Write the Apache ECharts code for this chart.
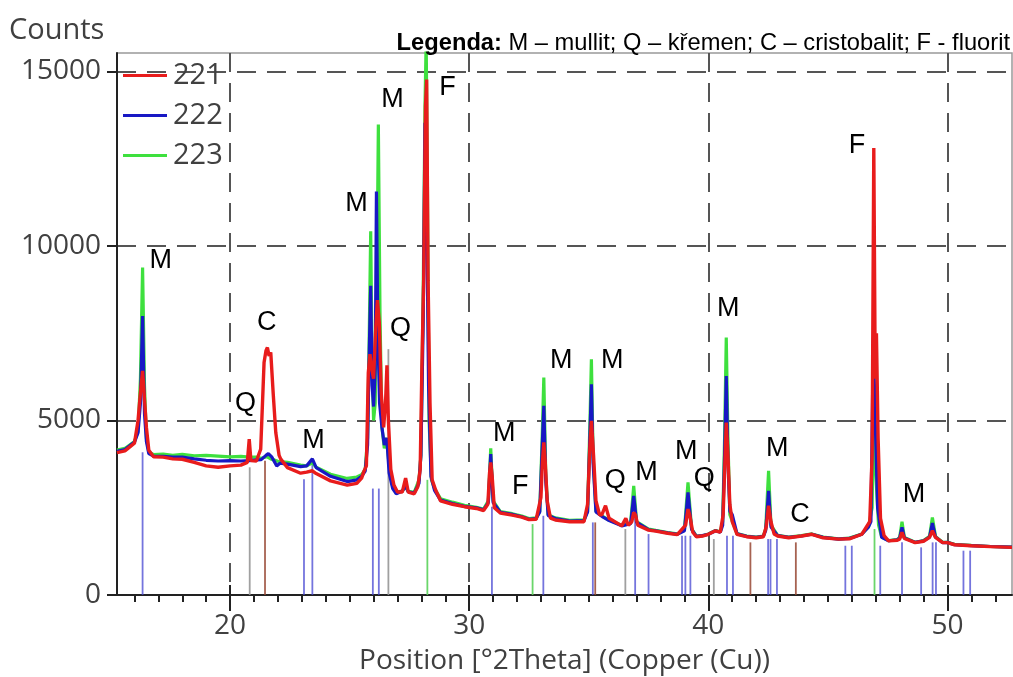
<!DOCTYPE html>
<html>
<head>
<meta charset="utf-8">
<script src="https://cdn.jsdelivr.net/npm/echarts@6/dist/echarts.min.js"></script>
<style>html,body{margin:0;padding:0;background:#fff}#c{width:1013px;height:677px}</style>
</head>
<body>
<div id="c"></div>
<script>
// ---- data ----
const seriesNames = ['221', '222', '223'];
const xTicks = [20, 30, 40, 50];
const xMinorTicks = [16,17,18,19,21,22,23,24,25,26,27,28,29,31,32,33,34,35,36,37,38,39,41,42,43,44,45,46,47,48,49,51,52];
const yTicks = [0, 5000, 10000, 15000];

// 223 (green)
const s223 = [[15.27,4150],[15.6,4200],[16.0,4400],[16.15,4700],[16.25,6200],[16.34,9380],[16.42,6000],[16.5,4500],[16.6,4100],[16.8,4020],[17.2,4040],[17.6,4000],[18.0,4030],[18.5,3990],[19.0,4000],[19.5,3980],[20.0,3960],[20.45,3970],[20.8,3950],[21.1,3950],[21.3,3920],[21.55,3960],[21.7,3900],[22.0,3830],[22.4,3800],[22.95,3720],[23.2,3700],[23.44,3790],[23.6,3660],[24.2,3460],[24.9,3340],[25.3,3380],[25.5,3450],[25.65,3600],[25.75,4500],[25.82,7500],[25.88,10420],[25.94,6500],[26.0,5000],[26.07,5500],[26.14,9000],[26.2,13480],[26.27,8000],[26.35,4800],[26.45,4200],[26.55,4500],[26.65,3700],[26.8,3100],[26.95,2950],[27.2,2980],[27.34,3100],[27.45,2970],[27.7,2940],[27.9,3300],[27.98,4000],[28.08,9000],[28.15,14000],[28.2,15900],[28.25,12000],[28.32,5000],[28.42,3300],[28.55,3050],[28.8,2760],[29.3,2660],[29.8,2570],[30.3,2510],[30.6,2460],[30.8,2700],[30.9,4200],[31.0,2700],[31.3,2390],[31.8,2330],[32.2,2260],[32.5,2190],[32.8,2210],[32.95,2400],[33.05,4500],[33.12,6230],[33.2,3500],[33.3,2300],[33.6,2210],[34.2,2140],[34.8,2150],[34.95,2400],[35.05,5000],[35.11,6755],[35.18,4000],[35.3,2400],[35.6,2250],[35.8,2160],[36.38,2000],[36.75,2060],[36.88,3130],[37.0,2100],[37.5,1890],[37.8,1850],[38.3,1790],[38.7,1750],[39.0,1860],[39.15,3225],[39.3,1900],[39.5,1690],[39.75,1700],[40.0,1750],[40.3,1850],[40.5,1810],[40.6,2100],[40.68,4500],[40.75,7375],[40.82,4500],[40.9,2300],[41.2,1760],[41.6,1690],[42.0,1660],[42.3,1690],[42.4,1900],[42.52,3558],[42.62,2000],[42.9,1710],[43.36,1660],[43.9,1700],[44.33,1750],[44.8,1660],[45.45,1610],[45.9,1630],[46.42,1750],[46.7,1950],[46.85,2500],[46.92,5600],[47.0,3500],[47.12,2000],[47.25,1660],[47.54,1560],[47.9,1590],[48.0,1650],[48.1,2098],[48.2,1650],[48.65,1510],[49.0,1560],[49.25,1680],[49.37,2223],[49.5,1680],[49.8,1510],[50.0,1510],[50.3,1450],[51.0,1420],[51.8,1390],[52.7,1370]];

// 222 (blue)
const s222 = [[15.27,4120],[15.6,4170],[16.0,4380],[16.15,4650],[16.25,5500],[16.34,7990],[16.42,5200],[16.5,4400],[16.6,4050],[16.8,3980],[17.2,3970],[17.6,3950],[18.0,3950],[18.5,3900],[19.0,3860],[19.5,3840],[20.0,3850],[20.45,3840],[20.8,3850],[21.1,3870],[21.3,3880],[21.5,4000],[21.6,4050],[21.75,3950],[21.95,3700],[22.1,3780],[22.4,3750],[22.95,3680],[23.2,3700],[23.44,3900],[23.6,3650],[24.2,3400],[24.9,3250],[25.3,3300],[25.5,3400],[25.65,3550],[25.75,4300],[25.82,7000],[25.88,8860],[25.94,6000],[26.0,5400],[26.07,6500],[26.12,11560],[26.18,7500],[26.25,5500],[26.35,4800],[26.45,4300],[26.55,4500],[26.65,3500],[26.8,3050],[26.95,2900],[27.2,2980],[27.34,3120],[27.45,2960],[27.7,2920],[27.9,3200],[27.98,4000],[28.08,8000],[28.15,13530],[28.22,11000],[28.3,6000],[28.4,3400],[28.55,3000],[28.8,2720],[29.3,2620],[29.8,2540],[30.3,2500],[30.6,2440],[30.8,2650],[30.9,4035],[31.0,2650],[31.3,2370],[31.8,2310],[32.2,2240],[32.5,2170],[32.8,2190],[32.95,2380],[33.05,4200],[33.12,5418],[33.2,3300],[33.3,2280],[33.6,2190],[34.2,2120],[34.8,2130],[34.95,2380],[35.05,4600],[35.11,6040],[35.18,3800],[35.3,2380],[35.6,2230],[35.8,2150],[36.38,1980],[36.75,2040],[36.88,2842],[37.0,2080],[37.5,1870],[37.8,1840],[38.3,1780],[38.7,1740],[39.0,1840],[39.15,2939],[39.3,1880],[39.5,1680],[39.75,1700],[40.0,1740],[40.3,1840],[40.5,1800],[40.6,2000],[40.68,4000],[40.75,6277],[40.82,3800],[40.9,2400],[41.0,2300],[41.2,1750],[41.6,1680],[42.0,1650],[42.3,1680],[42.4,1850],[42.52,2985],[42.62,1950],[42.9,1700],[43.36,1650],[43.9,1690],[44.33,1740],[44.8,1650],[45.45,1600],[45.9,1620],[46.42,1740],[46.7,1950],[46.8,2100],[46.9,7375],[46.98,5000],[47.08,2500],[47.25,1650],[47.54,1555],[47.9,1580],[48.0,1630],[48.1,1937],[48.2,1630],[48.65,1508],[49.0,1550],[49.25,1660],[49.37,2060],[49.5,1660],[49.8,1500],[50.0,1508],[50.3,1440],[51.0,1412],[51.8,1390],[52.7,1370]];

// 221 (red)
const s221 = [[15.27,4080],[15.6,4130],[16.0,4350],[16.15,5000],[16.25,5800],[16.34,6420],[16.42,5600],[16.5,4800],[16.6,4150],[16.8,3960],[17.2,3950],[17.6,3900],[18.0,3890],[18.5,3800],[19.0,3700],[19.5,3660],[20.0,3700],[20.45,3720],[20.72,3800],[20.8,4465],[20.87,3850],[21.1,3840],[21.28,4180],[21.42,6660],[21.5,7000],[21.56,7090],[21.63,6850],[21.7,6950],[21.8,5800],[21.91,4656],[22.05,4000],[22.12,3892],[22.4,3650],[22.95,3490],[23.2,3520],[23.44,3560],[23.6,3480],[24.2,3270],[24.9,3150],[25.3,3200],[25.5,3350],[25.6,3550],[25.7,3700],[25.78,6373],[25.85,6900],[25.92,6500],[26.0,6200],[26.08,7500],[26.16,8450],[26.24,7800],[26.32,5800],[26.42,4800],[26.5,5500],[26.56,6580],[26.62,5000],[26.72,3600],[26.85,3150],[27.0,2950],[27.2,2950],[27.34,3350],[27.45,2950],[27.7,2900],[27.85,3100],[27.95,3600],[28.02,6500],[28.1,9200],[28.17,14000],[28.22,14770],[28.28,9000],[28.36,5500],[28.45,3300],[28.6,3000],[28.8,2700],[29.3,2600],[29.8,2530],[30.3,2480],[30.6,2420],[30.78,2600],[30.85,3500],[30.9,3800],[30.96,3400],[31.05,2500],[31.3,2350],[31.8,2290],[32.2,2230],[32.5,2160],[32.8,2170],[33.0,2800],[33.06,3800],[33.12,4370],[33.18,3800],[33.26,2700],[33.4,2200],[33.6,2150],[34.2,2100],[34.8,2100],[34.95,2600],[35.05,4300],[35.11,4990],[35.2,4000],[35.3,2700],[35.45,2300],[35.55,2300],[35.7,2560],[35.85,2200],[36.38,1980],[36.55,2200],[36.65,2000],[36.8,2100],[36.88,2366],[36.95,2300],[37.05,2000],[37.5,1860],[37.8,1830],[38.3,1770],[38.7,1730],[39.05,2000],[39.15,2461],[39.22,2300],[39.35,1800],[39.5,1670],[39.75,1690],[40.0,1740],[40.3,1840],[40.5,1800],[40.62,2300],[40.75,4942],[40.82,4000],[40.9,2600],[41.0,2100],[41.2,1740],[41.6,1670],[42.0,1640],[42.3,1670],[42.42,1950],[42.52,2556],[42.62,2100],[42.75,1750],[42.9,1690],[43.36,1640],[43.9,1690],[44.33,1740],[44.8,1640],[45.45,1600],[45.9,1610],[46.42,1740],[46.75,2100],[46.85,4000],[46.92,12810],[46.98,6200],[47.03,7500],[47.1,4500],[47.2,2200],[47.35,1700],[47.54,1550],[47.9,1570],[48.0,1600],[48.1,1794],[48.2,1620],[48.65,1500],[49.0,1540],[49.25,1650],[49.37,1841],[49.5,1650],[49.8,1500],[50.0,1500],[50.3,1440],[51.0,1410],[51.8,1385],[52.7,1365]];

// reference pattern sticks [position, height]
const sticksMullite = [[16.34,4090],[23.09,3320],[23.44,3890],[25.97,3050],[26.22,3050],[30.95,2530],[33.1,2270],[35.17,2080],[36.94,2175],[37.5,1746],[38.9,1698],[39.04,1698],[39.25,1698],[40.78,1700],[41.03,1700],[42.5,1603],[42.6,1603],[42.87,1603],[45.73,1412],[46.0,1412],[47.19,1412],[48.1,1508],[48.9,1365],[49.38,1508],[49.52,1508],[50.67,1270],[50.95,1270]];
const sticksQuartz = [[20.82,3660],[26.62,7044],[36.53,1890],[40.23,1603]];
const sticksCristobalite = [[21.46,3844],[35.27,2080],[41.76,1508],[43.66,1508]];
const sticksFluorite = [[28.25,3300],[32.65,2032],[46.95,1890]];

// peak annotations [letter, x, counts]
const peakLabels = [['M',17.12,9560],['C',21.55,7785],['Q',20.67,5467],['M',23.51,4407],['M',25.31,11190],['M',26.81,14195],['Q',27.15,7613],['F',29.11,14539],['M',31.49,4608],['F',32.16,3091],['M',33.87,6697],['M',36.0,6697],['Q',36.13,3263],['M',37.43,3492],['M',39.1,4093],['Q',39.85,3320],['M',40.85,8185],['M',42.9,4179],['C',43.86,2290],['F',46.24,12850],['M',48.62,2862]];

const legendNote = 'M – mullit; Q – křemen; C – cristobalit; F - fluorit';

// ---- chart ----
const gray = '#404040';
const uiFont = 'Open Sans';
const X_MIN = 15.27, X_MAX = 52.7, Y_MAX = 15530;

function stickSeries(data, color) {
  return {
    type: 'custom', silent: true, z: 1, clip: true,
    data: data,
    renderItem: function (params, api) {
      const p0 = api.coord([api.value(0), 0]);
      const p1 = api.coord([api.value(0), api.value(1)]);
      return { type: 'line', shape: { x1: p0[0], y1: p0[1], x2: p1[0], y2: p1[1] },
        style: { stroke: color, lineWidth: 1.8 } };
    }
  };
}

const chart = echarts.init(document.getElementById('c'), null, { renderer: 'canvas' });
chart.setOption({
  animation: false,
  backgroundColor: '#fff',
  title: [
    { text: 'Counts', left: 9, top: 16, padding: 0,
      textStyle: { fontSize: 29, fontWeight: 'normal', color: gray, fontFamily: uiFont } },
    { text: '{b|Legenda:}{r| ' + legendNote + '}', right: 3, top: 31, padding: 0,
      textStyle: { rich: {
        b: { fontWeight: 'bold', fontSize: 23.7, fontFamily: 'Liberation Sans', color: '#000' },
        r: { fontWeight: 'normal', fontSize: 23.7, fontFamily: 'Liberation Sans', color: '#000' } } } }
  ],
  legend: {
    data: seriesNames, orient: 'vertical', left: 118, top: 56,
    icon: 'rect', itemWidth: 44, itemHeight: 3, itemGap: 11,
    textStyle: { fontSize: 29, color: gray, fontFamily: uiFont, padding: [0,0,0,1] }
  },
  grid: { left: 117, right: 1, top: 53, bottom: 82, show: true, borderColor: '#999', borderWidth: 1.5,
    containLabel: false, outerBoundsMode: 'none' },
  xAxis: [
    { type: 'value', min: X_MIN, max: X_MAX, position: 'bottom',
      name: 'Position [°2Theta] (Copper (Cu))', nameLocation: 'middle', nameGap: 52,
      nameTextStyle: { fontSize: 28, color: gray, fontFamily: uiFont },
      axisLine: { show: true, onZero: false, lineStyle: { color: '#222', width: 2 } },
      axisTick: { show: true, customValues: xTicks, length: 16, lineStyle: { color: '#222', width: 2 } },
      axisLabel: { customValues: xTicks, fontSize: 28, color: gray, fontFamily: uiFont, margin: 17 },
      splitLine: { show: true, lineStyle: { color: '#555', width: 2, type: [19, 11] } } },
    { type: 'value', min: X_MIN, max: X_MAX, position: 'bottom',
      axisLine: { show: false }, axisLabel: { show: false }, splitLine: { show: false },
      axisTick: { show: true, customValues: xMinorTicks, length: 7, lineStyle: { color: '#222', width: 2 } } },
    { type: 'value', min: X_MIN, max: X_MAX, position: 'bottom',
      axisLine: { show: false }, axisLabel: { show: false }, splitLine: { show: false },
      axisTick: { show: true, inside: true, customValues: xTicks, length: 10, lineStyle: { color: '#222', width: 2 } } }
  ],
  yAxis: {
    type: 'value', min: 0, max: Y_MAX,
    axisLine: { show: true, lineStyle: { color: '#222', width: 2 } },
    axisTick: { show: true, customValues: yTicks, length: 10, lineStyle: { color: '#222', width: 2 } },
    axisLabel: { customValues: yTicks, fontSize: 28, color: gray, fontFamily: uiFont, margin: 16,
      formatter: function (v) { return String(Math.round(v)); } },
    splitLine: { show: true, lineStyle: { color: '#555', width: 2, type: [19, 11] } }
  },
  series: [
    stickSeries(sticksMullite, 'rgba(70,70,210,0.75)'),
    stickSeries(sticksQuartz, 'rgba(150,150,150,0.9)'),
    stickSeries(sticksCristobalite, 'rgba(150,70,50,0.85)'),
    stickSeries(sticksFluorite, 'rgba(90,210,90,0.9)'),
    { name: '223', type: 'line', data: s223, showSymbol: false, z: 3,
      lineStyle: { color: '#3ee03e', width: 3.2 }, itemStyle: { color: '#3ee03e' } },
    { name: '222', type: 'line', data: s222, showSymbol: false, z: 4,
      lineStyle: { color: '#1818c4', width: 3.2 }, itemStyle: { color: '#1818c4' } },
    { name: '221', type: 'line', data: s221, showSymbol: false, z: 5,
      lineStyle: { color: '#e81c1c', width: 3.4 }, itemStyle: { color: '#e81c1c' } },
    { type: 'scatter', silent: true, z: 10, symbolSize: 1,
      itemStyle: { color: 'rgba(0,0,0,0)', opacity: 1 },
      data: peakLabels.map(function (p) { return [p[1], p[2], p[0]]; }),
      label: { show: true, position: [0, 0], align: 'center', verticalAlign: 'middle', opacity: 1,
        formatter: function (p) { return p.data[2]; },
        fontSize: 27, color: '#000', textBorderWidth: 0, fontFamily: 'Liberation Sans' } }
  ]
});
</script>
</body>
</html>
